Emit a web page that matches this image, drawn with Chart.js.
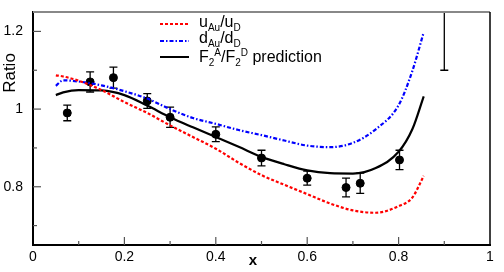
<!DOCTYPE html>
<html>
<head>
<meta charset="utf-8">
<script src="https://cdn.jsdelivr.net/npm/chart.js@4/dist/chart.umd.min.js"></script>
<style>
  html, body { margin: 0; padding: 0; background: #fff; }
  #wrap { width: 504px; height: 272px; }
</style>
</head>
<body>
<div id="wrap"><canvas id="ratioChart" width="504" height="272"></canvas></div>
<script>
// data points (x, ratio, error)
var pointX   = [0.075, 0.125, 0.176, 0.25, 0.30, 0.40, 0.50, 0.60, 0.685, 0.716, 0.802, 0.90];
var pointY   = [0.990, 1.070, 1.081, 1.021, 0.979, 0.935, 0.874, 0.822, 0.798, 0.809, 0.869, 1.45];
var pointErr = [0.020, 0.026, 0.027, 0.019, 0.026, 0.019, 0.020, 0.018, 0.024, 0.026, 0.025, 0.35];

// model curves
var curveX    = [0.05, 0.066, 0.1, 0.15, 0.2, 0.25, 0.3, 0.35, 0.4, 0.45, 0.5, 0.55, 0.6, 0.65, 0.7, 0.75, 0.8, 0.83, 0.855];
var uRatio    = [1.087, 1.084, 1.073, 1.049, 1.018, 0.990, 0.958, 0.928, 0.898, 0.862, 0.830, 0.805, 0.781, 0.757, 0.739, 0.733, 0.750, 0.772, 0.828];
var dRatio    = [1.060, 1.074, 1.071, 1.061, 1.046, 1.027, 1.000, 0.977, 0.962, 0.946, 0.933, 0.919, 0.906, 0.902, 0.913, 0.948, 1.010, 1.098, 1.198];
var f2Ratio   = [1.036, 1.043, 1.049, 1.048, 1.036, 1.009, 0.979, 0.953, 0.928, 0.903, 0.877, 0.858, 0.842, 0.835, 0.834, 0.848, 0.890, 0.948, 1.033];

var xMajor = [0, 0.2, 0.4, 0.6, 0.8, 1];
var yMajor = [0.8, 1, 1.2];
var yTicks = [0.7, 0.8, 0.9, 1.0, 1.1, 1.2];

function pairs(xs, ys) {
    var out = [];
    for (var i = 0; i < xs.length; i++) out.push({x: xs[i], y: ys[i]});
    return out;
}
function isIn(list, v) {
    for (var i = 0; i < list.length; i++) if (Math.abs(list[i] - v) < 1e-6) return true;
    return false;
}

var FONT = "'Liberation Sans', Arial, Helvetica, sans-serif";

// error bars, inner tick marks, frame, axis titles and legend
var decorations = {
    id: 'decorations',
    beforeDatasetsDraw: function (chart) {
        var ctx = chart.ctx, xs = chart.scales.x, ys = chart.scales.y, a = chart.chartArea;
        ctx.save();
        ctx.beginPath();
        ctx.rect(a.left, a.top, a.right - a.left, a.bottom - a.top);
        ctx.clip();
        ctx.strokeStyle = '#000';
        ctx.lineWidth = 1.3;
        for (var i = 0; i < pointX.length; i++) {
            var px = xs.getPixelForValue(pointX[i]);
            var lo = ys.getPixelForValue(pointY[i] - pointErr[i]);
            var hi = ys.getPixelForValue(pointY[i] + pointErr[i]);
            ctx.beginPath();
            ctx.moveTo(px, lo); ctx.lineTo(px, hi);
            ctx.moveTo(px - 4, lo); ctx.lineTo(px + 4, lo);
            ctx.moveTo(px - 4, hi); ctx.lineTo(px + 4, hi);
            ctx.stroke();
        }
        ctx.restore();
    },
    afterDraw: function (chart) {
        var ctx = chart.ctx, xs = chart.scales.x, ys = chart.scales.y, a = chart.chartArea;
        ctx.save();
        // frame top / right
        ctx.strokeStyle = '#888';
        ctx.lineWidth = 2;
        ctx.beginPath(); ctx.moveTo(a.left, a.top); ctx.lineTo(a.right, a.top); ctx.stroke();
        ctx.strokeStyle = '#000';
        ctx.lineWidth = 1.5;
        ctx.beginPath(); ctx.moveTo(a.right, a.top); ctx.lineTo(a.right, a.bottom); ctx.stroke();

        // tick marks inside
        ctx.strokeStyle = '#555';
        ctx.lineWidth = 1.2;
        xs.ticks.forEach(function (t) {
            if (t.value <= 0 || t.value >= 1) return;
            var px = xs.getPixelForValue(t.value);
            var len = isIn(xMajor, t.value) ? 8 : 4;
            ctx.beginPath(); ctx.moveTo(px, a.bottom); ctx.lineTo(px, a.bottom - len); ctx.stroke();
        });
        ys.ticks.forEach(function (t) {
            var py = ys.getPixelForValue(t.value);
            var len = isIn(yMajor, t.value) ? 8 : 4;
            ctx.beginPath(); ctx.moveTo(a.left, py); ctx.lineTo(a.left + len, py); ctx.stroke();
        });

        // axis titles
        ctx.fillStyle = '#000';
        ctx.font = 'bold 15px ' + FONT;
        ctx.textAlign = 'center';
        ctx.textBaseline = 'alphabetic';
        ctx.fillText('x', 253, 265);
        ctx.save();
        ctx.translate(15, 73);
        ctx.rotate(-Math.PI / 2);
        ctx.font = '17px ' + FONT;
        ctx.fillText('Ratio', 0, 0);
        ctx.restore();

        // legend (0 = normal, 1 = subscript, -1 = superscript)
        var rows = [
            {y: 24, base: 27, color: '#ff0000', dash: [3, 2], parts: [['u', 0], ['Au', 1], ['/u', 0], ['D', 1]]},
            {y: 41, base: 43, color: '#0000ff', dash: [4, 2, 1.5, 2], parts: [['d', 0], ['Au', 1], ['/d', 0], ['D', 1]]},
            {y: 57, base: 62, color: '#000000', dash: [], parts: [['F', 0], ['2', 1], ['A', -1], ['/F', 0], ['2', 1], ['D', -1], [' prediction', 0]]}
        ];
        rows.forEach(function (r) {
            ctx.strokeStyle = r.color;
            ctx.lineWidth = 2;
            ctx.setLineDash(r.dash);
            ctx.beginPath(); ctx.moveTo(160, r.y); ctx.lineTo(189, r.y); ctx.stroke();
            ctx.setLineDash([]);
            var x = 199;
            ctx.textAlign = 'left';
            r.parts.forEach(function (p) {
                if (p[1] === 0) {
                    ctx.font = '16px ' + FONT;
                    ctx.fillText(p[0], x, r.base);
                } else {
                    ctx.font = '10px ' + FONT;
                    ctx.fillText(p[0], x, r.base + (p[1] > 0 ? 4 : -6));
                }
                x += ctx.measureText(p[0]).width;
            });
        });
        ctx.restore();
    }
};

new Chart('ratioChart', {
    type: 'scatter',
    data: {
        datasets: [
            {
                label: 'uAu/uD',
                data: pairs(curveX, uRatio),
                showLine: true,
                borderColor: '#ff0000',
                borderWidth: 2.2,
                borderDash: [3, 2],
                pointRadius: 0,
                cubicInterpolationMode: 'monotone'
            },
            {
                label: 'dAu/dD',
                data: pairs(curveX, dRatio),
                showLine: true,
                borderColor: '#0000ff',
                borderWidth: 2.2,
                borderDash: [4, 2, 1.5, 2],
                pointRadius: 0,
                cubicInterpolationMode: 'monotone'
            },
            {
                label: 'F2A/F2D prediction',
                data: pairs(curveX, f2Ratio),
                showLine: true,
                borderColor: '#000000',
                borderWidth: 2.2,
                pointRadius: 0,
                cubicInterpolationMode: 'monotone'
            },
            {
                label: 'data',
                data: pairs(pointX, pointY),
                showLine: false,
                pointRadius: 4,
                pointBackgroundColor: '#000',
                pointBorderColor: '#000',
                borderColor: '#000'
            }
        ]
    },
    options: {
        responsive: false,
        animation: false,
        events: [],
        layout: { padding: { top: 12, right: 14, left: 0, bottom: 0 } },
        plugins: {
            legend: { display: false },
            tooltip: { enabled: false }
        },
        scales: {
            x: {
                type: 'linear',
                min: 0,
                max: 1,
                afterFit: function (s) { s.height = 27; s.paddingLeft = 0; s.paddingRight = 0; },
                grid: { display: false, drawTicks: false },
                border: { display: true, color: '#000', width: 2 },
                ticks: {
                    stepSize: 0.1,
                    autoSkip: false,
                    maxRotation: 0,
                    padding: 4,
                    color: '#000',
                    font: { family: FONT, size: 14 },
                    callback: function (v) { return isIn(xMajor, v) ? String(Math.round(v * 10) / 10) : ''; }
                }
            },
            y: {
                type: 'linear',
                min: 0.65,
                max: 1.25,
                afterFit: function (s) { s.width = 33; s.paddingTop = 0; s.paddingBottom = 0; },
                afterBuildTicks: function (s) { s.ticks = yTicks.map(function (v) { return {value: v}; }); },
                grid: { display: false, drawTicks: false },
                border: { display: true, color: '#000', width: 2 },
                ticks: {
                    autoSkip: false,
                    padding: 10,
                    color: '#000',
                    font: { family: FONT, size: 14 },
                    callback: function (v) { return isIn(yMajor, v) ? String(Math.round(v * 10) / 10) : ''; }
                }
            }
        }
    },
    plugins: [decorations]
});
</script>
</body>
</html>
